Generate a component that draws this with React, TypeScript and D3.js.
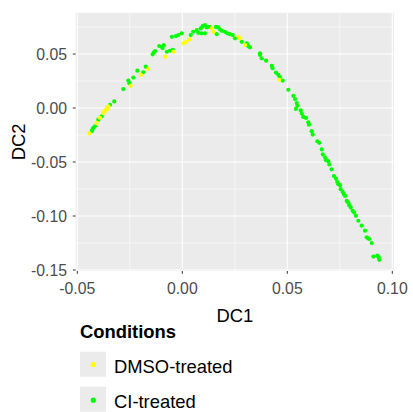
import React from "react";
import * as d3 from "d3";

const xTicks = [-0.05, 0.0, 0.05, 0.1];
const xTickLabels = ["-0.05", "0.00", "0.05", "0.10"];
const yTicks = [0.05, 0.0, -0.05, -0.1, -0.15];
const yTickLabels = ["0.05", "0.00", "-0.05", "-0.10", "-0.15"];
const xMinor = [-0.025, 0.025, 0.075];
const yMinor = [0.075, 0.025, -0.025, -0.075, -0.125];

const conditions = ["DMSO-treated", "CI-treated"];
const conditionColors = ["#FFFF00", "#00FF00"];

const dmsoDC1 = [
  -0.0442, -0.0408, -0.0392, -0.0376, -0.0368, -0.036, -0.0352, -0.0372, -0.0356,
  -0.0246, -0.0197, -0.0162, -0.0082, -0.0043, 0.0005, 0.0018, 0.0033, 0.014, 0.0148,
  0.0267, 0.0275, 0.0299, 0.0462,
];
const dmsoDC2 = [
  -0.0235, -0.0138, -0.0092, -0.0046, -0.0022, 0.0, 0.0015, -0.0034, -0.001,
  0.0205, 0.0307, 0.0362, 0.0475, 0.0521, 0.0599, 0.0613, 0.0635, 0.0737, 0.0705,
  0.0659, 0.0645, 0.0583, 0.0261,
];

const ciDC1 = [
  -0.0431, -0.0424, -0.0416, -0.0428, -0.04, -0.0384, -0.0344, -0.0324, -0.0281, -0.0257,
  -0.0252, -0.0233, -0.0214, -0.0186, -0.0174, -0.0141, -0.0135, -0.0129, -0.011, -0.0098,
  -0.0074, -0.0059, -0.005, -0.003, -0.0019, -0.0003, 0.004, 0.0052, 0.0069, 0.0076,
  0.0088, 0.0097, 0.0108, 0.0092, 0.0108, 0.0116, 0.0129, 0.016, 0.0171, 0.0164,
  0.018, 0.0188, 0.0203, 0.0214, 0.0227, 0.024, 0.0251, 0.0283, 0.0307, 0.0314,
  0.0322, 0.0308, 0.037, 0.037, 0.0378, 0.0399, 0.0426, 0.043, 0.0446, 0.0457,
  0.0465, 0.0478, 0.0505, 0.0529, 0.0537, 0.0545, 0.0548, 0.0541, 0.0564, 0.0569,
  0.0576, 0.0589, 0.06, 0.0603, 0.0616, 0.0621, 0.0643, 0.0652, 0.0664, 0.0669,
  0.068, 0.0684, 0.0695, 0.07, 0.0711, 0.0722, 0.0732, 0.0738, 0.0743, 0.0751,
  0.0754, 0.0764, 0.077, 0.0775, 0.0783, 0.079, 0.0795, 0.0802, 0.0811, 0.0818,
  0.0827, 0.0838, 0.0854, 0.087, 0.0878, 0.0884, 0.089, 0.0902, 0.091, 0.0929,
  0.0935, 0.0938, -0.0088, -0.0094, -0.0045,
];
const ciDC2 = [
  -0.0215, -0.0184, -0.0169, -0.02, -0.0108, -0.0077, 0.003, 0.0061, 0.0175, 0.0254,
  0.023, 0.0282, 0.0346, 0.0331, 0.0383, 0.0497, 0.0516, 0.0528, 0.0574, 0.0567,
  0.0521, 0.053, 0.0659, 0.0666, 0.0675, 0.0691, 0.0675, 0.0705, 0.0721, 0.0696,
  0.0737, 0.0758, 0.0767, 0.0691, 0.0691, 0.0746, 0.0751, 0.0751, 0.0746, 0.0684,
  0.0727, 0.0715, 0.0705, 0.0691, 0.0684, 0.0675, 0.0645, 0.0613, 0.0599, 0.0574,
  0.0562, 0.0583, 0.0506, 0.0491, 0.046, 0.0438, 0.039, 0.0368, 0.0328, 0.0307,
  0.0285, 0.0254, 0.0169, 0.0113, 0.0083, 0.0046, 0.0021, -0.0009, -0.0022, -0.0052,
  -0.0083, -0.0092, -0.0133, -0.0154, -0.0215, -0.0246, -0.0308, -0.0322, -0.0384, -0.043,
  -0.046, -0.0483, -0.0492, -0.0522, -0.0568, -0.063, -0.0654, -0.0685, -0.0706, -0.0715,
  -0.0752, -0.0777, -0.0798, -0.0814, -0.086, -0.0875, -0.09, -0.0921, -0.0952, -0.0967,
  -0.0998, -0.1044, -0.109, -0.1136, -0.1197, -0.1204, -0.1213, -0.125, -0.1376, -0.1367,
  -0.1381, -0.1406, 0.0582, 0.0555, 0.0538,
];

const W = 413;
const H = 412;

export default function App() {
  const x = d3.scaleLinear().domain([-0.05, 0.1]).range([77.3, 392.3]);
  const y = d3.scaleLinear().domain([0.05, -0.15]).range([54, 270]);
  const px0 = x(-0.0508);
  const px1 = x(0.1008);
  const py0 = y(0.0881);
  const py1 = y(-0.1509);
  const font = "'Liberation Sans', Arial, sans-serif";

  const dmso = dmsoDC1.map((d, i) => [d, dmsoDC2[i]]);
  const ci = ciDC1.map((d, i) => [d, ciDC2[i]]);

  return (
    <svg
      width={W}
      height={H}
      style={{ position: "absolute", left: 0, top: 0, background: "#fff" }}
      fontFamily={font}
    >
      <rect x={0} y={0} width={W} height={H} fill="#fff" />
      <rect x={px0} y={py0} width={px1 - px0} height={py1 - py0} fill="#EBEBEB" />
      {xMinor.map((t) => (
        <line key={"xm" + t} x1={x(t)} x2={x(t)} y1={py0} y2={py1} stroke="#fff" strokeWidth={0.55} />
      ))}
      {yMinor.map((t) => (
        <line key={"ym" + t} x1={px0} x2={px1} y1={y(t)} y2={y(t)} stroke="#fff" strokeWidth={0.55} />
      ))}
      {xTicks.map((t) => (
        <line key={"xM" + t} x1={x(t)} x2={x(t)} y1={py0} y2={py1} stroke="#fff" strokeWidth={1.1} />
      ))}
      {yTicks.map((t) => (
        <line key={"yM" + t} x1={px0} x2={px1} y1={y(t)} y2={y(t)} stroke="#fff" strokeWidth={1.1} />
      ))}
      {ci.map((d, i) => (
        <circle key={"c" + i} cx={x(d[0])} cy={y(d[1])} r={2.1} fill={conditionColors[1]} />
      ))}
      {dmso.map((d, i) => (
        <circle key={"d" + i} cx={x(d[0])} cy={y(d[1])} r={2.1} fill={conditionColors[0]} />
      ))}
      {xTicks.map((t, i) => (
        <g key={"xt" + t}>
          <line x1={x(t)} x2={x(t)} y1={py1} y2={py1 + 2.8} stroke="#333" strokeWidth={1} />
          <text x={x(t)} y={294} textAnchor="middle" fontSize={15.8} fill="#4D4D4D">
            {xTickLabels[i]}
          </text>
        </g>
      ))}
      {yTicks.map((t, i) => (
        <g key={"yt" + t}>
          <line x1={px0 - 2.8} x2={px0} y1={y(t)} y2={y(t)} stroke="#333" strokeWidth={1} />
          <text x={67} y={y(t) + 5.7} textAnchor="end" fontSize={15.8} fill="#4D4D4D">
            {yTickLabels[i]}
          </text>
        </g>
      ))}
      <text x={(px0 + px1) / 2} y={321.5} textAnchor="middle" fontSize={18.4} fill="#000">
        DC1
      </text>
      <text
        transform={`translate(25, ${(py0 + py1) / 2}) rotate(-90)`}
        textAnchor="middle"
        fontSize={18.4}
        fill="#000"
      >
        DC2
      </text>
      <text x={80} y={338.3} fontSize={18.4} fontWeight="bold" fill="#000">
        Conditions
      </text>
      {conditions.map((c, i) => (
        <g key={c}>
          <rect x={80} y={351.7 + i * 35} width={26} height={25} fill="#EBEBEB" />
          <circle cx={93.3} cy={364.5 + i * 35.7} r={2.6} fill={conditionColors[i]} />
          <text x={114} y={373.2 + i * 34.5} fontSize={18.4} fill="#000">
            {c}
          </text>
        </g>
      ))}
    </svg>
  );
}
